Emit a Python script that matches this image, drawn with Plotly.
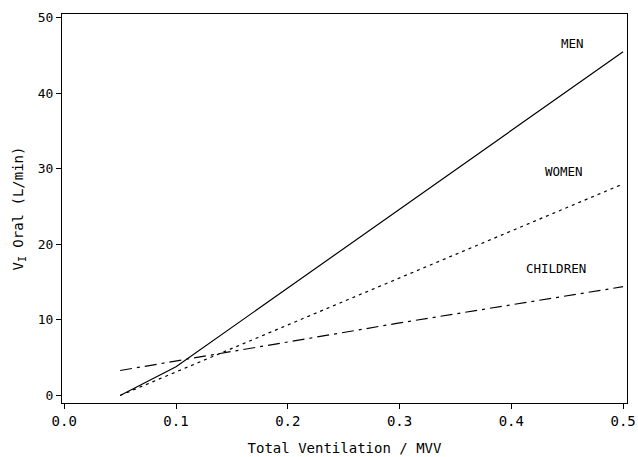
import plotly.graph_objects as go

men_x = [0.05, 0.1, 0.5]
men_y = [0.0, 3.8, 45.5]
women_x = [0.05, 0.1, 0.5]
women_y = [0.0, 3.1, 28.0]
child_x = [0.05, 0.3, 0.5]
child_y = [3.3, 9.6, 14.4]

labels = ["MEN", "WOMEN", "CHILDREN"]
label_x = [0.455, 0.447, 0.44]
label_y = [46.6, 29.6, 16.8]

font = "DejaVu Sans Mono"
fig = go.Figure()
fig.add_trace(go.Scatter(x=men_x, y=men_y, mode="lines", line=dict(color="black", width=1.2, dash="solid")))
fig.add_trace(go.Scatter(x=women_x, y=women_y, mode="lines", line=dict(color="black", width=1.2, dash="3px,4px")))
fig.add_trace(go.Scatter(x=child_x, y=child_y, mode="lines", line=dict(color="black", width=1.2, dash="12px,5px,3px,5px")))
for t, x, y in zip(labels, label_x, label_y):
    fig.add_annotation(x=x, y=y, text=t, showarrow=False, font=dict(family=font, size=12.5, color="black"))

axis_common = dict(showgrid=False, zeroline=False, showline=True, linecolor="black", linewidth=1.2,
                   mirror=True, ticks="outside", ticklen=5, tickcolor="black", automargin=False)
fig.update_layout(
    width=638, height=457, margin=dict(l=62, r=11, t=14, b=54),
    plot_bgcolor="white", paper_bgcolor="white", showlegend=False,
    xaxis=dict(range=[-0.002, 0.5035], tickvals=[0, 0.1, 0.2, 0.3, 0.4, 0.5],
               ticktext=["0.0", "0.1", "0.2", "0.3", "0.4", "0.5"],
               tickfont=dict(family=font, size=14, color="black"),
               title=dict(text="Total Ventilation / MVV", font=dict(family=font, size=14, color="black"), standoff=15),
               **axis_common),
    yaxis=dict(range=[-1.0, 50.5], tickvals=[0, 10, 20, 30, 40, 50],
               tickfont=dict(family=font, size=13, color="black"),
               title=dict(text="V<sub>I</sub> Oral (L/min)", font=dict(family=font, size=14, color="black"), standoff=10),
               **axis_common),
)
fig.write_html("out.html")
